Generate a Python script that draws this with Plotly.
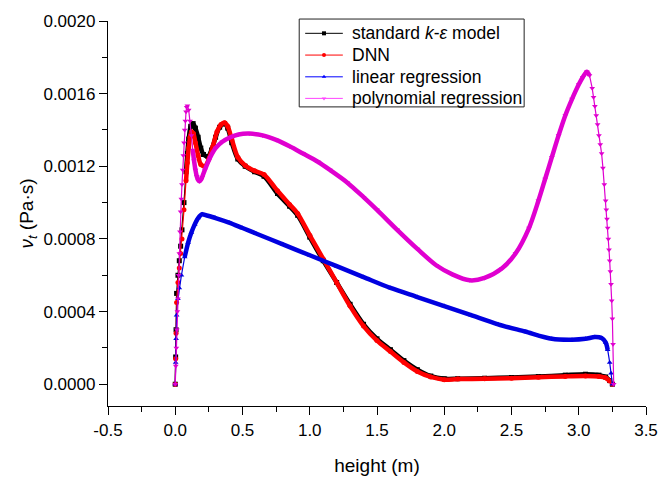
import plotly.graph_objects as go

# ---- data (nu_t in units of 1e-3 Pa*s, height in m) ----
x_std = [0, 0.003, 0.006, 0.01, 0.02, 0.03, 0.04, 0.05, 0.065, 0.08, 0.09, 0.10, 0.115, 0.133,
         0.15, 0.17, 0.19, 0.21, 0.243, 0.27, 0.30, 0.33, 0.367, 0.39, 0.42, 0.465, 0.52, 0.59,
         0.66, 0.76, 0.85, 0.91, 1.00, 1.10, 1.20, 1.30, 1.40, 1.50, 1.60, 1.70, 1.80, 1.90,
         2.00, 2.10, 2.30, 2.50, 2.70, 2.90, 3.05, 3.15, 3.20, 3.23, 3.25]
v_std = [0, 0.15, 0.30, 0.50, 0.60, 0.68, 0.76, 0.85, 1.00, 1.17, 1.27, 1.35, 1.42, 1.435,
         1.41, 1.36, 1.30, 1.265, 1.254, 1.29, 1.36, 1.415, 1.435, 1.41, 1.33, 1.24, 1.20, 1.17,
         1.145, 1.05, 0.98, 0.93, 0.81, 0.68, 0.56, 0.44, 0.33, 0.25, 0.19, 0.13, 0.08, 0.045,
         0.03, 0.03, 0.033, 0.037, 0.042, 0.05, 0.055, 0.05, 0.04, 0.02, 0.0]

x_dnn = [0, 0.003, 0.006, 0.01, 0.02, 0.03, 0.04, 0.05, 0.065, 0.08, 0.09, 0.10, 0.11, 0.12,
         0.135, 0.15, 0.17, 0.19, 0.22, 0.25, 0.28, 0.31, 0.34, 0.367, 0.39, 0.42, 0.465, 0.52,
         0.59, 0.66, 0.76, 0.85, 0.91, 1.00, 1.10, 1.20, 1.30, 1.40, 1.50, 1.60, 1.70, 1.80,
         1.90, 2.00, 2.10, 2.30, 2.50, 2.70, 2.90, 3.05, 3.15, 3.20, 3.23, 3.25]
v_dnn = [0, 0.14, 0.28, 0.45, 0.56, 0.64, 0.72, 0.80, 0.96, 1.12, 1.22, 1.30, 1.36, 1.39,
         1.38, 1.33, 1.26, 1.21, 1.20, 1.24, 1.31, 1.39, 1.43, 1.44, 1.42, 1.35, 1.25, 1.205,
         1.175, 1.155, 1.065, 0.99, 0.94, 0.82, 0.69, 0.56, 0.43, 0.32, 0.24, 0.18, 0.12, 0.07,
         0.04, 0.025, 0.028, 0.03, 0.033, 0.038, 0.043, 0.045, 0.042, 0.035, 0.018, 0.0]

x_lin = [0, 0.003, 0.006, 0.01, 0.02, 0.03, 0.046, 0.07, 0.096, 0.12, 0.145, 0.17, 0.20, 0.23,
         0.30, 0.40, 0.50, 0.60, 0.80, 1.00, 1.20, 1.40, 1.60, 1.80, 2.00, 2.20, 2.40, 2.60,
         2.80, 2.95, 3.05, 3.12, 3.17, 3.20, 3.215, 3.23, 3.24, 3.25]
v_lin = [0, 0.12, 0.25, 0.38, 0.47, 0.53, 0.60, 0.70, 0.78, 0.835, 0.88, 0.915, 0.936, 0.93,
         0.915, 0.89, 0.86, 0.83, 0.77, 0.71, 0.65, 0.59, 0.53, 0.48, 0.43, 0.38, 0.33, 0.29,
         0.25, 0.245, 0.25, 0.26, 0.255, 0.23, 0.19, 0.12, 0.06, 0.0]

x_poly = [0, 0.004, 0.008, 0.012, 0.016, 0.02, 0.025, 0.03, 0.035, 0.04, 0.045, 0.05, 0.055,
          0.06, 0.065, 0.07, 0.075, 0.08, 0.085, 0.09, 0.10, 0.11, 0.12, 0.13, 0.14, 0.15, 0.16,
          0.17, 0.18, 0.19, 0.20, 0.22, 0.26, 0.30, 0.35, 0.41, 0.47, 0.55, 0.65, 0.75, 0.85,
          0.95, 1.06, 1.15, 1.28, 1.40, 1.50, 1.65, 1.80, 1.94, 2.06, 2.19, 2.30, 2.43, 2.53,
          2.63, 2.70, 2.75, 2.80, 2.85, 2.90, 2.95, 3.00, 3.03, 3.06, 3.08, 3.10, 3.11, 3.12, 3.13,
          3.14, 3.15, 3.16, 3.17, 3.18, 3.19, 3.20, 3.205, 3.21, 3.215, 3.22, 3.225, 3.23, 3.235,
          3.24, 3.245, 3.25, 3.255, 3.26]
v_poly = [0, 0.10, 0.20, 0.30, 0.40, 0.47, 0.60, 0.72, 0.84, 0.95, 1.02, 1.10, 1.18,
          1.26, 1.33, 1.40, 1.45, 1.50, 1.525, 1.534, 1.51, 1.45, 1.37, 1.29, 1.23, 1.18, 1.145,
          1.125, 1.118, 1.125, 1.14, 1.18, 1.25, 1.30, 1.335, 1.36, 1.375, 1.38, 1.37, 1.345, 1.31,
          1.27, 1.225, 1.18, 1.11, 1.03, 0.96, 0.85, 0.745, 0.655, 0.605, 0.572, 0.585, 0.638, 0.72,
          0.86, 1.01, 1.13, 1.25, 1.37, 1.48, 1.57, 1.65, 1.69, 1.72, 1.70, 1.63, 1.58, 1.53, 1.48,
          1.43, 1.37, 1.32, 1.27, 1.19, 1.10, 1.01, 0.96, 0.91, 0.86, 0.80, 0.74, 0.68, 0.62,
          0.55, 0.46, 0.36, 0.22, 0.0]

series_names = ["standard <i>k</i>-<i>ε</i> model", "DNN", "linear regression", "polynomial regression"]
series_colors = ["#000000", "#FF0000", "#0000E0", "#E000D0"]
legend_colors = ["#000000", "#FF0000", "#0000FF", "#FF44FF"]
series_symbols = ["square", "circle", "triangle-up", "triangle-down"]
# x-range in which the dense markers merge into a thick band
band_ranges = [(0.08, 3.23), (0.08, 3.23), (0.07, 3.215), (0.13, 3.08)]

x_ticks = [-0.5, 0.0, 0.5, 1.0, 1.5, 2.0, 2.5, 3.0, 3.5]
x_ticktext = ["-0.5", "0.0", "0.5", "1.0", "1.5", "2.0", "2.5", "3.0", "3.5"]
x_minor = [-0.25, 0.25, 0.75, 1.25, 1.75, 2.25, 2.75, 3.25]
y_ticks = [0.0, 0.0004, 0.0008, 0.0012, 0.0016, 0.0020]
y_ticktext = ["0.0000", "0.0004", "0.0008", "0.0012", "0.0016", "0.0020"]
y_minor = [0.0002, 0.0006, 0.0010, 0.0014, 0.0018]

all_x = [x_std, x_dnn, x_lin, x_poly]
all_v = [v_std, v_dnn, v_lin, v_poly]
for xs, vs in zip(all_x, all_v):
    assert len(xs) == len(vs), (len(xs), len(vs))

FONT = "Liberation Sans, Arial, sans-serif"

fig = go.Figure()
for xs, vs, col, sym, (a, b) in zip(all_x, all_v, series_colors, series_symbols, band_ranges):
    ys = [v * 1e-3 for v in vs]
    # individual markers joined by a thin line
    fig.add_trace(go.Scatter(
        x=xs, y=ys, mode="lines+markers",
        line=dict(color=col, width=1.2),
        marker=dict(symbol=sym, size=5, color=col, line=dict(width=0)),
        showlegend=False, hoverinfo="skip"))
    # dense part drawn as a thick band
    idx = [i for i, xv in enumerate(xs) if a <= xv <= b]
    fig.add_trace(go.Scatter(
        x=[xs[i] for i in idx], y=[ys[i] for i in idx], mode="lines",
        line=dict(color=col, width=4.5, shape="spline", smoothing=0.8),
        showlegend=False, hoverinfo="skip"))

# ---- legend drawn manually (paper coordinates of the plot area) ----
leg_x0, leg_x1, leg_y0, leg_y1 = 0.3554, 0.7735, 0.7769, 1.0051
row_y = [0.968, 0.9115, 0.855, 0.799]
line_x0, line_x1, mark_x, text_x = 0.3665, 0.4365, 0.4015, 0.4494

fig.add_shape(type="rect", xref="paper", yref="paper", x0=leg_x0, x1=leg_x1, y0=leg_y0, y1=leg_y1,
              line=dict(color="#222222", width=1), fillcolor="rgba(0,0,0,0)", layer="above")
for name, col, sym, ry in zip(series_names, legend_colors, series_symbols, row_y):
    fig.add_trace(go.Scatter(x=[line_x0, line_x1], y=[ry, ry], mode="lines", xaxis="x2", yaxis="y2",
                             line=dict(color=col, width=1), showlegend=False, hoverinfo="skip",
                             cliponaxis=False))
    fig.add_trace(go.Scatter(x=[mark_x], y=[ry], mode="markers", xaxis="x2", yaxis="y2",
                             marker=dict(symbol=sym, size=4, color=col), showlegend=False,
                             hoverinfo="skip", cliponaxis=False))
    fig.add_annotation(x=text_x, y=ry, xref="paper", yref="paper", text=name, showarrow=False,
                       xanchor="left", yanchor="middle",
                       font=dict(family=FONT, size=17.5, color="black"))

axis_common = dict(
    showline=True, linecolor="black", linewidth=1.3, showgrid=False, zeroline=False,
    ticks="outside", ticklen=8, tickwidth=1.2, tickcolor="black",
    tickfont=dict(family=FONT, size=17, color="black"),
)

fig.update_layout(
    width=670, height=492,
    margin=dict(l=108, r=19, t=16, b=86),
    paper_bgcolor="white", plot_bgcolor="white",
    font=dict(family=FONT, color="black"),
    showlegend=False,
    xaxis=dict(range=[-0.5, 3.5], tickvals=x_ticks, ticktext=x_ticktext,
               minor=dict(tickvals=x_minor, ticks="outside", ticklen=5, tickcolor="black", tickwidth=1.2),
               title=dict(text="height (m)", font=dict(family=FONT, size=19, color="black"), standoff=20),
               **axis_common),
    yaxis=dict(range=[-0.00012, 0.0020], tickvals=y_ticks, ticktext=y_ticktext,
               minor=dict(tickvals=y_minor, ticks="outside", ticklen=5, tickcolor="black", tickwidth=1.2),
               title=dict(text="<i>ν</i><sub><i>t</i></sub> (Pa·s)", font=dict(family=FONT, size=19, color="black"), standoff=4),
               **axis_common),
    xaxis2=dict(overlaying="x", range=[0, 1], visible=False, fixedrange=True),
    yaxis2=dict(overlaying="y", range=[0, 1], visible=False, fixedrange=True),
)

fig.write_html("out.html")
